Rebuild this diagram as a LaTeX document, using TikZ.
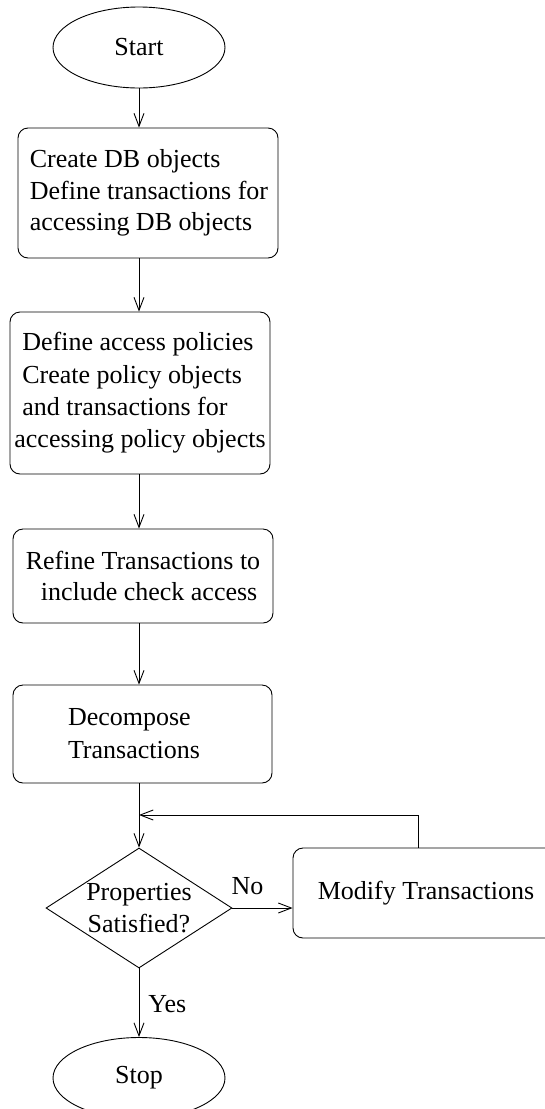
\documentclass[tikz,border=0pt]{standalone}
\usepackage{fontspec}
\setmainfont{Liberation Serif}
\usetikzlibrary{arrows.meta,shapes.geometric,calc}
\begin{document}
\begin{tikzpicture}[x=1pt,y=-1pt,
  line width=0.9pt,
  >={Straight Barb[length=13pt,width=10pt,line width=0.9pt]},
  every node/.style={font=\fontsize{26}{31.5}\selectfont},
  term/.style={draw,ellipse,minimum width=172pt,minimum height=81pt,inner sep=0pt},
  proc/.style={draw,rectangle,rounded corners=10pt,inner sep=0pt},
  dec/.style={draw,diamond,minimum width=186pt,minimum height=120pt,inner sep=0pt},
  lbl/.style={inner sep=0pt}]
\useasboundingbox (0,0) rectangle (545,1109);
\clip (0,0) rectangle (545,1109);

\node[term] (start) at (139,47.5) {Start};

\node[proc,minimum width=260pt,minimum height=130pt,align=left] (b1) at (148,193)
  {\hspace*{2pt}Create DB objects\\\hspace*{2pt}Define transactions for\\\hspace*{2pt}accessing DB objects};

\node[proc,minimum width=260pt,minimum height=162pt,align=left,
  font=\fontsize{26}{32.3}\selectfont] (b2) at (140,393)
  {\hspace*{8pt}Define access policies\\\hspace*{8pt}Create policy objects\\\hspace*{8pt}and transactions for\\accessing policy objects};

\node[proc,minimum width=260pt,minimum height=94pt,align=left] (b3) at (143,576)
  {Refine Transactions to\\\hspace*{15pt}include check access\hspace*{-6pt}};

\node[proc,minimum width=259pt,minimum height=98pt,align=left,text width=149pt,
  font=\fontsize{26}{33}\selectfont] (b4) at (142.5,734)
  {Decompose\\Transactions};

\node[dec,label={[lbl,align=center,font=\fontsize{26}{32}\selectfont]center:Properties\\Satisfied?}] (d) at (139,908) {};

\node[proc,minimum width=266pt,minimum height=90pt] (mod) at (426,893) {Modify Transactions};

\node[term] (stop) at (139,1078) {Stop};

\coordinate (j) at (139,815);

\draw[->] (start.south) -- (start.south |- b1.north);
\draw[->] (start.south |- b1.south) -- (start.south |- b2.north);
\draw[->] (start.south |- b2.south) -- (start.south |- b3.north);
\draw[->] (start.south |- b3.south) -- (start.south |- b4.north);
\draw[->] (d.north |- b4.south) -- (d.north);
\draw[->] ([xshift=-8pt]mod.north) |- (j);
\draw[->] (d.east) -- (d.east -| mod.west) node[lbl,pos=0.25,above=13pt] {No};
\draw[->] (d.south) -- (stop.north) node[lbl,midway,right=9pt,yshift=-1pt] {Yes};
\end{tikzpicture}
\end{document}
